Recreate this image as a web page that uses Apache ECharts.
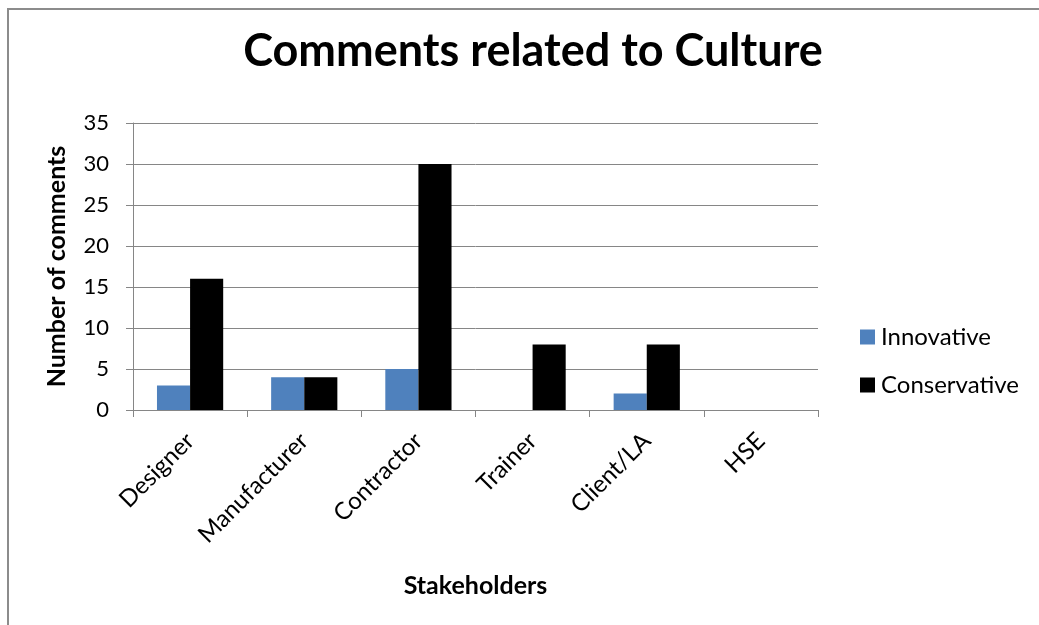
<!DOCTYPE html>
<html>
<head>
<meta charset="utf-8">
<script src="https://cdn.jsdelivr.net/npm/echarts@6/dist/echarts.min.js"></script>
<style>
  html, body { margin: 0; padding: 0; background: #fff; }
  #chart { width: 1039px; height: 625px; }
</style>
</head>
<body>
<div id="chart"></div>
<script>
// Stakeholder groups and comment counts per culture type
const stakeholders = ['Designer', 'Manufacturer', 'Contractor', 'Trainer', 'Client/LA', 'HSE'];
const innovative = [3, 4, 5, 0, 2, 0];
const conservative = [16, 4, 30, 8, 8, 0];
const yTicks = { min: 0, max: 35, interval: 5 };

const font = 'Lato, "Open Sans", sans-serif';
const chart = echarts.init(document.getElementById('chart'));

chart.setOption({
  animation: false,
  backgroundColor: '#fff',
  title: {
    text: 'Comments related to Culture',
    left: 528,
    textAlign: 'center',
    top: 24,
    textStyle: { fontFamily: font, fontSize: 45, fontWeight: 'bold', color: '#000' }
  },
  legend: {
    orient: 'vertical',
    left: 860,
    top: 325,
    padding: 0,
    itemWidth: 15,
    itemHeight: 15,
    itemGap: 24,
    icon: 'rect',
    textStyle: { fontFamily: font, fontSize: 24, color: '#000', padding: [0, 0, 0, 1] },
    data: ['Innovative', 'Conservative']
  },
  grid: { left: 133, right: 221, top: 123, bottom: 215 },
  xAxis: {
    type: 'category',
    data: stakeholders,
    name: 'Stakeholders',
    nameLocation: 'middle',
    nameGap: 163,
    nameTextStyle: { fontFamily: font, fontSize: 25, fontWeight: 'bold', color: '#000' },
    axisLine: { lineStyle: { color: '#868686', width: 1 } },
    axisTick: { show: true, length: 7, lineStyle: { color: '#868686' } },
    axisLabel: { rotate: 45, fontFamily: font, fontSize: 24, color: '#000', margin: 27 }
  },
  yAxis: {
    type: 'value',
    min: yTicks.min,
    max: yTicks.max,
    interval: yTicks.interval,
    name: 'Number of comments',
    nameLocation: 'middle',
    nameGap: 64,
    nameTextStyle: { fontFamily: font, fontSize: 25, fontWeight: 'bold', color: '#000' },
    axisLine: { show: true, lineStyle: { color: '#868686', width: 1 } },
    axisTick: { show: true, length: 7, lineStyle: { color: '#868686' } },
    axisLabel: { fontFamily: font, fontSize: 22, color: '#000', margin: 24 },
    splitLine: { lineStyle: { color: '#868686', width: 1 } }
  },
  series: [
    {
      name: 'Innovative',
      type: 'bar',
      data: innovative,
      barGap: '0%',
      barCategoryGap: '42%',
      itemStyle: { color: '#4F81BD' }
    },
    {
      name: 'Conservative',
      type: 'bar',
      data: conservative,
      barGap: '0%',
      barCategoryGap: '42%',
      itemStyle: { color: '#000000' }
    }
  ],
  graphic: [
    {
      type: 'rect',
      shape: { x: 8, y: 9, width: 1200, height: 800 },
      style: { fill: 'none', stroke: '#8c8c8c', lineWidth: 2 },
      silent: true
    }
  ]
});
</script>
</body>
</html>
